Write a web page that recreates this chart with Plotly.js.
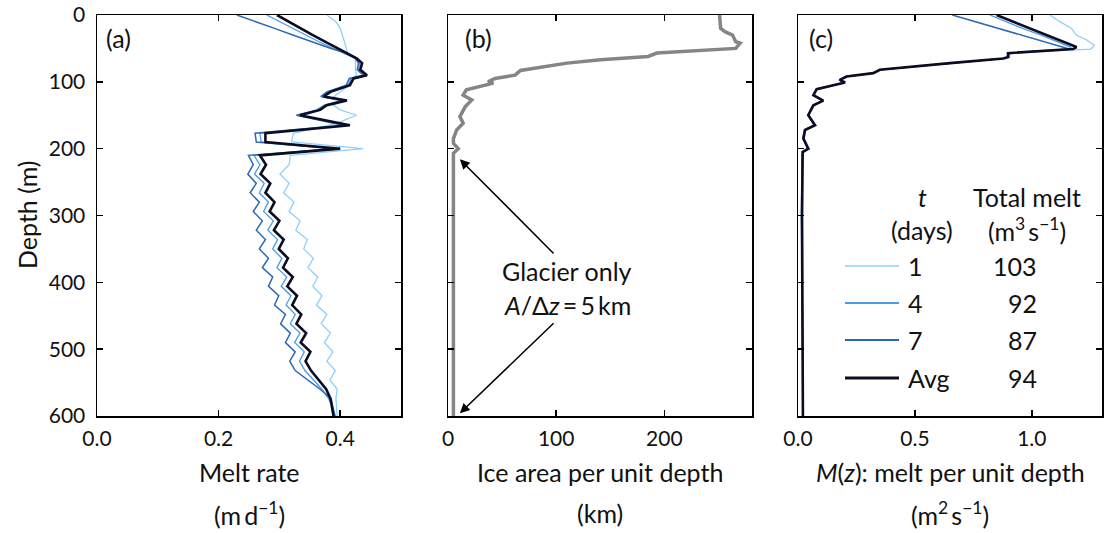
<!DOCTYPE html>
<html>
<head>
<meta charset="utf-8">
<script src="https://cdn.plot.ly/plotly-3.0.1.min.js"></script>
<style>html,body{margin:0;padding:0;background:#fff;}#chart{width:1107px;height:533px;}</style>
</head>
<body>
<div id="chart"></div>
<script>
// ---------- Panel (a): melt rate (m/d) vs depth (m) ----------
const depthA = [0,10,20,30,40,50,57,65,72,82,90,95,105,115,122,128,135,142,150,160,165,177,190,200,210,
  224,238,252,266,280,294,308,322,336,350,364,378,392,406,420,434,448,462,476,490,504,518,532,546,560,574,588,600];
const meltDay1 = [0.378,0.393,0.400,0.404,0.407,0.410,0.412,0.425,0.425,0.425,0.427,0.420,0.415,0.400,0.390,0.400,0.389,0.400,0.427,0.400,0.380,0.323,0.320,0.438,0.318,
  0.316,0.301,0.316,0.307,0.324,0.316,0.334,0.327,0.346,0.340,0.356,0.347,0.363,0.355,0.370,0.361,0.378,0.369,0.384,0.374,0.388,0.378,0.392,0.383,0.395,0.393,0.394,0.395];
const meltDay4 = [0.279,0.300,0.321,0.343,0.365,0.388,0.405,0.425,0.432,0.430,0.440,0.418,0.413,0.380,0.370,0.405,0.376,0.365,0.330,0.385,0.410,0.268,0.270,0.395,0.258,
  0.268,0.259,0.275,0.267,0.282,0.274,0.290,0.281,0.297,0.289,0.304,0.296,0.312,0.303,0.319,0.311,0.326,0.318,0.334,0.325,0.341,0.333,0.342,0.356,0.370,0.381,0.388,0.392];
const meltDay7 = [0.230,0.262,0.292,0.322,0.352,0.385,0.410,0.425,0.430,0.428,0.438,0.415,0.410,0.378,0.368,0.402,0.374,0.362,0.328,0.380,0.405,0.260,0.262,0.390,0.249,
  0.257,0.248,0.262,0.252,0.267,0.257,0.272,0.262,0.277,0.267,0.282,0.272,0.289,0.282,0.299,0.292,0.310,0.302,0.318,0.310,0.326,0.317,0.326,0.347,0.367,0.385,0.388,0.391];
const meltAvg = [0.296,0.315,0.335,0.355,0.375,0.395,0.410,0.427,0.436,0.433,0.444,0.422,0.416,0.384,0.373,0.411,0.378,0.367,0.334,0.390,0.416,0.277,0.277,0.400,0.268,
  0.278,0.269,0.285,0.277,0.292,0.284,0.300,0.291,0.307,0.299,0.314,0.306,0.322,0.313,0.329,0.321,0.336,0.328,0.344,0.335,0.351,0.343,0.352,0.365,0.377,0.384,0.387,0.389];

// ---------- Panel (b): ice area per unit depth (km) ----------
const depthB = [0,20,25,30,40,42,50,57,62,67,72,78,83,90,95,100,102,112,120,127,137,152,162,172,185,192,200,207,300,400,500,600];
const iceArea = [251,252,256,263,266,270,266,193,185,141,110,85,67,62,43.5,37,42,17,14,22,16,11,14,8,5,5,9.5,5,5,5,5,5];

// ---------- Panel (c): melt per unit depth M(z) (m^2/s) ----------
const depthC = [0,10,20,30,37,45,48,51,57,63,65,72,77,82,87,92,97,101,111,120,128,135,150,165,172,185,200,205,300,400,500,600];
const mDay1 = [1.077,1.12,1.17,1.19,1.233,1.266,1.262,1.252,0.905,0.905,0.885,0.655,0.495,0.352,0.325,0.210,0.180,0.200,0.082,0.066,0.106,0.068,0.047,0.070,0.033,0.026,0.049,0.022,0.020,0.022,0.023,0.023];
const mDay4 = [0.82,0.89,0.96,1.04,1.09,1.14,1.165,1.17,0.899,0.899,0.878,0.650,0.493,0.350,0.322,0.208,0.179,0.201,0.080,0.066,0.108,0.066,0.044,0.073,0.030,0.023,0.044,0.019,0.016,0.018,0.019,0.022];
const mDay7 = [0.66,0.76,0.86,0.96,1.03,1.11,1.14,1.16,0.895,0.895,0.875,0.648,0.490,0.348,0.320,0.205,0.176,0.198,0.078,0.064,0.105,0.064,0.042,0.070,0.028,0.021,0.042,0.018,0.015,0.017,0.018,0.022];
const mAvg = [0.849,0.92,0.99,1.06,1.11,1.17,1.191,1.176,0.899,0.899,0.878,0.650,0.493,0.350,0.322,0.208,0.179,0.201,0.080,0.066,0.108,0.066,0.044,0.073,0.030,0.023,0.044,0.020,0.017,0.019,0.020,0.021];

// ---------- legend table ----------
const legendDays = ['1','4','7','Avg'];
const totalMelt = ['103','92','87','94'];

const FONT = 'Lato, "Noto Sans", sans-serif';
const W = 1107, H = 533;
const colors = ['#8fd0fb', '#4a9de3', '#2c68b4', '#0c0c22'];
const widths = [1.3, 1.3, 1.5, 2.6];
const TS = '\u2009'; // thin space

function px(x){ return x / W; }
function py(y){ return 1 - y / H; }

const traces = [];
const seriesA = [meltDay1, meltDay4, meltDay7, meltAvg];
const seriesC = [mDay1, mDay4, mDay7, mAvg];
seriesA.forEach((s,i)=>traces.push({x:s, y:depthA, xaxis:'x', yaxis:'y', mode:'lines',
  line:{color:colors[i], width:widths[i]}, showlegend:false, hoverinfo:'skip'}));
traces.push({x:iceArea, y:depthB, xaxis:'x2', yaxis:'y2', mode:'lines',
  line:{color:'#858585', width:3.5}, showlegend:false, hoverinfo:'skip'});
seriesC.forEach((s,i)=>traces.push({x:s, y:depthC, xaxis:'x3', yaxis:'y3', mode:'lines',
  line:{color:colors[i], width:widths[i]}, showlegend:false, hoverinfo:'skip'}));

const baseAxis = {showline:true, mirror:'ticks', linecolor:'#000', linewidth:1.5,
  ticks:'inside', ticklen:6, tickwidth:1.5, tickcolor:'#000', showgrid:false, zeroline:false,
  tickfont:{family:FONT, size:21, color:'#111'}, fixedrange:true};
const yDom = [py(416), py(15)];
const yBase = Object.assign({}, baseAxis, {range:[600,0], tickvals:[0,100,200,300,400,500,600], domain:yDom, ticklabelstandoff:6});

const layout = {
  width:W, height:H, margin:{l:0,r:0,t:0,b:0}, paper_bgcolor:'#fff', plot_bgcolor:'#fff',
  font:{family:FONT, color:'#111'},
  xaxis: Object.assign({}, baseAxis, {domain:[px(97),px(401)], range:[0,0.5], tickvals:[0,0.2,0.4], tickformat:'.1f', anchor:'y', ticklabelstandoff:3}),
  yaxis: Object.assign({}, yBase, {anchor:'x'}),
  xaxis2: Object.assign({}, baseAxis, {domain:[px(448),px(752)], range:[0,281], tickvals:[0,100,200], anchor:'y2', ticklabelstandoff:3}),
  yaxis2: Object.assign({}, yBase, {anchor:'x2', showticklabels:false}),
  xaxis3: Object.assign({}, baseAxis, {domain:[px(798),px(1102)], range:[0,1.3], tickvals:[0,0.5,1.0], tickformat:'.1f', anchor:'y3', ticklabelstandoff:3}),
  yaxis3: Object.assign({}, yBase, {anchor:'x3', showticklabels:false}),
  annotations:[], shapes:[]
};

function txt(x, y, text, size, extra){
  layout.annotations.push(Object.assign({xref:'paper', yref:'paper', x:px(x), y:py(y), text:text,
    showarrow:false, xanchor:'center', yanchor:'middle', font:{family:FONT, size:size, color:'#111'}}, extra||{}));
}
// panel letters
txt(118, 38, '(a)', 25);
txt(478, 38, '(b)', 25);
txt(821, 38, '(c)', 25);
// axis titles
txt(27, 215, 'Depth (m)', 25, {textangle:-90});
txt(249, 472, 'Melt rate', 25);
txt(249, 513, '(m' + TS + 'd<sup>−1</sup>)', 25);
txt(600, 472, 'Ice area per unit depth', 25);
txt(600, 513, '(km)', 25);
txt(950, 472, '<i>M</i>(<i>z</i>): melt per unit depth', 25);
txt(950, 513, '(m<sup>2</sup>' + TS + 's<sup>−1</sup>)', 25);
// glacier annotation text
txt(567, 271, 'Glacier only', 25);
txt(567, 305, '<i>A</i>/Δ<i>z</i>' + TS + '=' + TS + '5' + TS + 'km', 25);
// arrows (head at curve, tail near text)
layout.annotations.push({xref:'x2', yref:'y2', x:11, y:216, axref:'x2', ayref:'y2', ax:99, ay:359,
  text:'', showarrow:true, arrowhead:2, arrowsize:1.3, arrowwidth:1.5, arrowcolor:'#000'});
layout.annotations.push({xref:'x2', yref:'y2', x:11, y:596, axref:'x2', ayref:'y2', ax:99, ay:459,
  text:'', showarrow:true, arrowhead:2, arrowsize:1.3, arrowwidth:1.5, arrowcolor:'#000'});
// legend table
txt(922, 197, '<i>t</i>', 25);
txt(1027, 197, 'Total melt', 25);
txt(922, 230, '(days)', 25);
txt(1027, 230, '(m<sup>3</sup>' + TS + 's<sup>−1</sup>)', 25);
const rowY = [266, 303, 340, 378];
const legW = [1.6, 2.0, 2.0, 3.0];
legendDays.forEach((d,i)=>{
  layout.shapes.push({type:'line', xref:'paper', yref:'paper', x0:px(845), x1:px(899), y0:py(rowY[i]), y1:py(rowY[i]),
    line:{color:colors[i], width:legW[i]}});
  txt(906, rowY[i], d, 25, {xanchor:'left'});
  txt(1039, rowY[i], totalMelt[i], 25, {xanchor:'right'});
});

Plotly.newPlot('chart', traces, layout, {displayModeBar:false, staticPlot:true});
</script>
</body>
</html>
